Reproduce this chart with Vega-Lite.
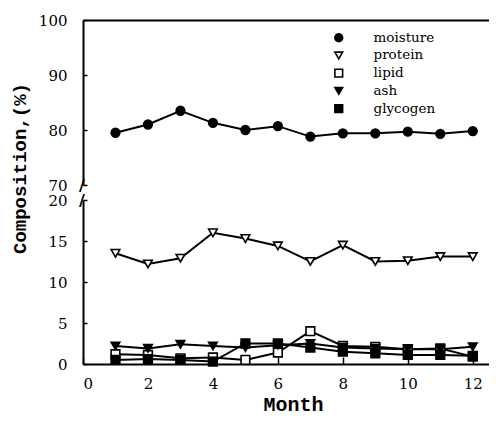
{
  "$schema": "https://vega.github.io/schema/vega-lite/v6.json",
  "padding": {"left": 10, "top": 13, "right": 0, "bottom": 0},
  "bounds": "flush",
  "config": {
    "view": {"stroke": null},
    "font": "DejaVu Serif",
    "axis": {
      "domainColor": "black", "domainWidth": 2, "tickColor": "black", "tickWidth": 1.5,
      "labelColor": "black", "labelFont": "DejaVu Serif", "labelFontSize": 15,
      "titleFont": "Liberation Mono", "titleFontWeight": "bold", "titleColor": "black", "titleFontSize": 19,
      "grid": false
    },
    "legend": {"labelFont": "DejaVu Serif", "labelFontSize": 13.5, "labelColor": "black"}
  },
  "data": {"values": [
    {"month": 1, "series": "moisture", "value": 79.5},
    {"month": 2, "series": "moisture", "value": 81.0},
    {"month": 3, "series": "moisture", "value": 83.5},
    {"month": 4, "series": "moisture", "value": 81.3},
    {"month": 5, "series": "moisture", "value": 80.0},
    {"month": 6, "series": "moisture", "value": 80.7},
    {"month": 7, "series": "moisture", "value": 78.8},
    {"month": 8, "series": "moisture", "value": 79.4},
    {"month": 9, "series": "moisture", "value": 79.4},
    {"month": 10, "series": "moisture", "value": 79.7},
    {"month": 11, "series": "moisture", "value": 79.3},
    {"month": 12, "series": "moisture", "value": 79.8},
    {"month": 1, "series": "protein", "value": 13.5},
    {"month": 2, "series": "protein", "value": 12.2},
    {"month": 3, "series": "protein", "value": 12.9},
    {"month": 4, "series": "protein", "value": 16.0},
    {"month": 5, "series": "protein", "value": 15.3},
    {"month": 6, "series": "protein", "value": 14.4},
    {"month": 7, "series": "protein", "value": 12.5},
    {"month": 8, "series": "protein", "value": 14.5},
    {"month": 9, "series": "protein", "value": 12.5},
    {"month": 10, "series": "protein", "value": 12.6},
    {"month": 11, "series": "protein", "value": 13.1},
    {"month": 12, "series": "protein", "value": 13.1},
    {"month": 1, "series": "lipid", "value": 1.2},
    {"month": 2, "series": "lipid", "value": 1.1},
    {"month": 3, "series": "lipid", "value": 0.7},
    {"month": 4, "series": "lipid", "value": 0.8},
    {"month": 5, "series": "lipid", "value": 0.5},
    {"month": 6, "series": "lipid", "value": 1.4},
    {"month": 7, "series": "lipid", "value": 4.0},
    {"month": 8, "series": "lipid", "value": 2.2},
    {"month": 9, "series": "lipid", "value": 2.1},
    {"month": 10, "series": "lipid", "value": 1.8},
    {"month": 11, "series": "lipid", "value": 1.9},
    {"month": 12, "series": "lipid", "value": 0.9},
    {"month": 1, "series": "ash", "value": 2.2},
    {"month": 2, "series": "ash", "value": 1.9},
    {"month": 3, "series": "ash", "value": 2.4},
    {"month": 4, "series": "ash", "value": 2.2},
    {"month": 5, "series": "ash", "value": 2.0},
    {"month": 6, "series": "ash", "value": 2.3},
    {"month": 7, "series": "ash", "value": 2.5},
    {"month": 8, "series": "ash", "value": 2.0},
    {"month": 9, "series": "ash", "value": 1.9},
    {"month": 10, "series": "ash", "value": 1.8},
    {"month": 11, "series": "ash", "value": 1.8},
    {"month": 12, "series": "ash", "value": 2.1},
    {"month": 1, "series": "glycogen", "value": 0.5},
    {"month": 2, "series": "glycogen", "value": 0.6},
    {"month": 3, "series": "glycogen", "value": 0.5},
    {"month": 4, "series": "glycogen", "value": 0.3},
    {"month": 5, "series": "glycogen", "value": 2.5},
    {"month": 6, "series": "glycogen", "value": 2.5},
    {"month": 7, "series": "glycogen", "value": 2.0},
    {"month": 8, "series": "glycogen", "value": 1.5},
    {"month": 9, "series": "glycogen", "value": 1.3},
    {"month": 10, "series": "glycogen", "value": 1.1},
    {"month": 11, "series": "glycogen", "value": 1.1},
    {"month": 12, "series": "glycogen", "value": 1.0}
  ]},
  "spacing": 15,
  "vconcat": [
    {
      "width": 406, "height": 165,
      "layer": [
        {
          "transform": [{"filter": "datum.series === 'moisture'"}],
          "mark": {"type": "line", "color": "black", "strokeWidth": 2},
          "encoding": {
            "x": {"field": "month", "type": "quantitative", "scale": {"domain": [0, 12.5], "nice": false},
                  "axis": {"orient": "top", "labels": false, "ticks": false, "title": null}},
            "y": {"field": "value", "type": "quantitative", "scale": {"domain": [70, 100], "nice": false, "zero": false},
                  "axis": {"values": [70, 80, 90, 100], "tickSize": -4, "labelPadding": 20, "title": null}},
            "detail": {"field": "series"}
          }
        },
        {
          "transform": [{"filter": "datum.series === 'moisture'"}],
          "mark": {"type": "point", "filled": true, "opacity": 1, "stroke": "black", "strokeWidth": 1.6, "size": 75},
          "encoding": {
            "x": {"field": "month", "type": "quantitative"},
            "y": {"field": "value", "type": "quantitative"},
            "shape": {"field": "series", "type": "nominal",
                      "scale": {"domain": ["moisture", "protein", "lipid", "ash", "glycogen"],
                                "range": ["circle", "triangle-down", "square", "triangle-down", "square"]},
                      "legend": {"title": null, "orient": "none", "legendX": 249, "legendY": 11,
                                 "symbolSize": 60, "symbolStrokeWidth": 1.6, "labelOffset": 28, "rowPadding": 2.7}},
            "fill": {"field": "series", "type": "nominal",
                     "scale": {"domain": ["moisture", "protein", "lipid", "ash", "glycogen"],
                               "range": ["black", "white", "white", "black", "black"]},
                     "legend": {"title": null, "orient": "none", "legendX": 249, "legendY": 11,
                                "symbolSize": 60, "symbolStrokeWidth": 1.6, "labelOffset": 28, "rowPadding": 2.7}}
          }
        },
        {
          "data": {"values": [{}]},
          "mark": {"type": "text", "text": "/", "fontSize": 16, "fontWeight": "bold", "font": "DejaVu Sans", "dx": -1, "dy": 1},
          "encoding": {"x": {"datum": 0, "type": "quantitative"}, "y": {"datum": 70, "type": "quantitative"}}
        }
      ]
    },
    {
      "width": 406, "height": 164,
      "transform": [{"filter": "datum.series !== 'moisture'"}],
      "layer": [
        {
          "mark": {"type": "line", "color": "black", "strokeWidth": 2},
          "encoding": {
            "x": {"field": "month", "type": "quantitative", "scale": {"domain": [0, 12.5], "nice": false},
                  "axis": {"values": [0, 2, 4, 6, 8, 10, 12], "tickSize": -7, "labelPadding": 19, "title": "Month", "titleFontSize": 20, "titlePadding": 3, "titleX": 210}},
            "y": {"field": "value", "type": "quantitative", "scale": {"domain": [0, 20], "nice": false},
                  "axis": {"values": [0, 5, 10, 15, 20], "tickSize": -4, "labelPadding": 20,
                           "title": "Composition,(%)", "titleX": -64, "titleY": -32, "titleAngle": -90,
                           "titleAlign": "center", "titleBaseline": "middle"}},
            "detail": {"field": "series"}
          }
        },
        {
          "mark": {"type": "point", "filled": true, "opacity": 1, "stroke": "black", "strokeWidth": 1.6, "size": 75},
          "encoding": {
            "x": {"field": "month", "type": "quantitative"},
            "y": {"field": "value", "type": "quantitative"},
            "shape": {"field": "series", "type": "nominal",
                      "scale": {"domain": ["moisture", "protein", "lipid", "ash", "glycogen"],
                                "range": ["circle", "triangle-down", "square", "triangle-down", "square"]}},
            "fill": {"field": "series", "type": "nominal",
                     "scale": {"domain": ["moisture", "protein", "lipid", "ash", "glycogen"],
                               "range": ["black", "white", "white", "black", "black"]}}
          }
        },
        {
          "data": {"values": [{}]},
          "mark": {"type": "text", "text": "/", "fontSize": 16, "fontWeight": "bold", "font": "DejaVu Sans", "dx": -1, "dy": 1},
          "encoding": {"x": {"datum": 0, "type": "quantitative"}, "y": {"datum": 20, "type": "quantitative"}}
        }
      ]
    }
  ]
}
